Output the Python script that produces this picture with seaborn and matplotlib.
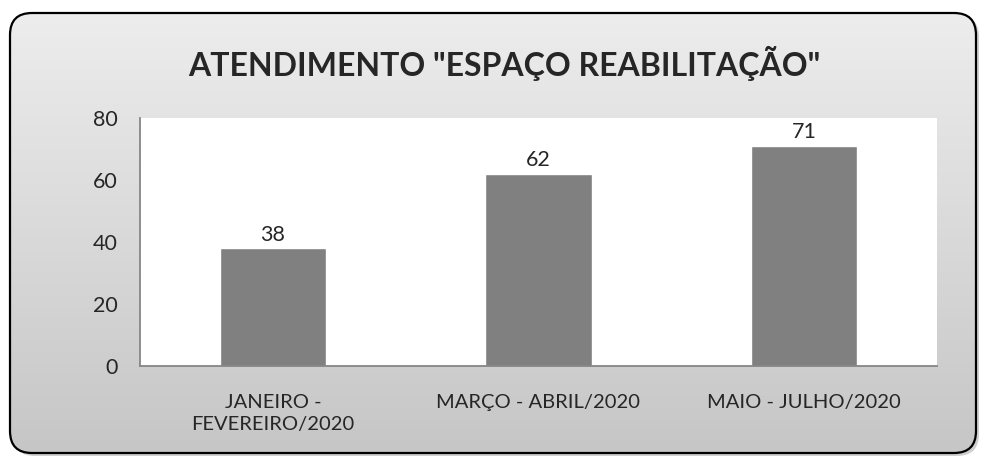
import numpy as np
import matplotlib
matplotlib.use('Agg')
import matplotlib.pyplot as plt
import seaborn as sns
from matplotlib.patches import FancyBboxPatch

# Dados do grafico
periodos = ['JANEIRO -\nFEVEREIRO/2020', 'MARÇO - ABRIL/2020', 'MAIO - JULHO/2020']
atendimentos = [38, 62, 71]
titulo = 'ATENDIMENTO "ESPAÇO REABILITAÇÃO"'
y_ticks = [0, 20, 40, 60, 80]

sns.set_style('white')
plt.rcParams['font.family'] = ['Lato', 'DejaVu Sans']

fig = plt.figure(figsize=(9.84, 4.57), dpi=100)

# Fundo: caixa arredondada com degrade
bg = fig.add_axes([0, 0, 1, 1])
bg.set_xlim(0, 984)
bg.set_ylim(0, 457)
bg.axis('off')

sombra = FancyBboxPatch((13, 1), 966, 441, boxstyle='round,pad=0,rounding_size=22',
                        facecolor='#a0a0a0', edgecolor='none', alpha=0.5)
bg.add_patch(sombra)
caixa = FancyBboxPatch((10, 4), 966, 440, boxstyle='round,pad=0,rounding_size=22',
                       facecolor='none', edgecolor='black', linewidth=1.6, zorder=3)
bg.add_patch(caixa)
grad = np.linspace(0, 1, 256).reshape(-1, 1)
img = bg.imshow(grad, extent=(10, 976, 4, 444), origin='lower', aspect='auto',
                cmap=matplotlib.colors.LinearSegmentedColormap.from_list('g', ['#c6c6c6', '#ededed']),
                zorder=2)
clip = FancyBboxPatch((10, 4), 966, 440, boxstyle='round,pad=0,rounding_size=22',
                      transform=bg.transData, facecolor='none', edgecolor='none')
bg.add_patch(clip)
img.set_clip_path(clip)

fig.text(0.513, 0.862, titulo, ha='center', va='center', fontsize=23, fontweight='bold')

# Area do grafico
ax = fig.add_axes([140 / 984, 1 - 366 / 457, (937 - 140) / 984, (366 - 118) / 457])
ax.set_facecolor('white')
sns.barplot(x=periodos, y=atendimentos, color='#808080', width=0.4, saturation=1, ax=ax)
ax.bar_label(ax.containers[0], padding=2.5, fontsize=15.5)

ax.set_ylim(0, 80)
ax.set_yticks(y_ticks)
ax.set_xlim(-0.5, 2.5)
ax.set_xticks([-0.5, 0.5, 1.5, 2.5])
ax.set_xticklabels([])
ax.set_xticks([0, 1, 2], minor=True)
ax.set_xticklabels(periodos, minor=True, fontsize=14.5, linespacing=1.35)
ax.tick_params(axis='x', which='major', length=6, width=1.3, color='#868686', direction='out')
ax.tick_params(axis='x', which='minor', length=0, pad=20)
ax.tick_params(axis='y', length=6, width=1.3, color='#868686', direction='out', labelsize=15.5, pad=10)

for s in ['top', 'right']:
    ax.spines[s].set_visible(False)
for s in ['left', 'bottom']:
    ax.spines[s].set_color('#868686')
    ax.spines[s].set_linewidth(1.3)

ax.set_xlabel('')
ax.set_ylabel('')

fig.savefig('out.png', dpi=100)
